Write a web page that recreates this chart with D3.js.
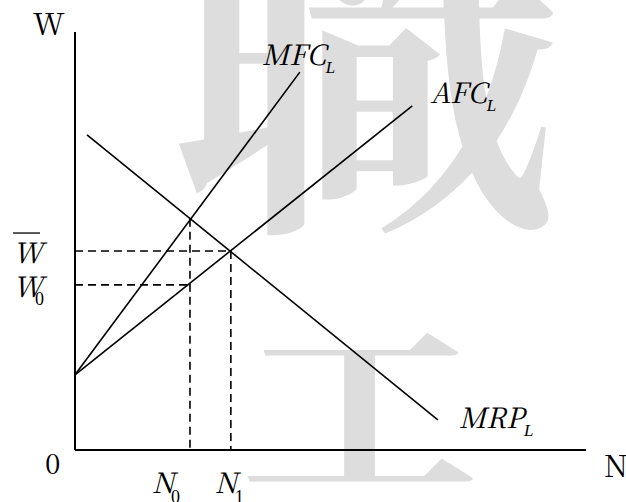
<!DOCTYPE html>
<html>
<head>
<meta charset="utf-8">
<script src="https://cdn.jsdelivr.net/npm/d3@7"></script>
<style>
  html, body { margin: 0; padding: 0; background: #fff; }
  svg { display: block; }
</style>
</head>
<body>
<div id="chart"></div>
<script>
// curves as [N, W] endpoints
const mfcPoints = [[0, 1.8], [4.4, 9.04]];
const afcPoints = [[0, 1.8], [6.6, 8.23]];
const mrpPoints = [[0.235, 7.54], [7.1, 0.72]];

// equilibrium values
const nValues = [2.25, 3.05];        // N0, N1
const wValues = [3.95, 4.76];        // W0, W-bar
const mfcAtN0 = 5.53;

const curveLabels = ["MFC", "AFC", "MRP"];

const width = 626, height = 502;
const serifSmall = "'Liberation Serif', 'Times New Roman', serif";
// Liberation Serif drops to a sans face at big sizes here, the CJK serif does not
const serifBig = "'Noto Serif CJK TC', 'Liberation Serif', serif";
const cjk = "'Noto Serif CJK TC', 'Noto Sans CJK TC', serif";

const x = d3.scaleLinear().domain([0, 10]).range([75, 586]);
const y = d3.scaleLinear().domain([0, 10]).range([450, 32]);

const svg = d3.select("#chart").append("svg")
    .attr("width", width)
    .attr("height", height);

/* ── watermark ── */
svg.append("text")
    .attr("x", 366).attr("y", 200)
    .attr("text-anchor", "middle")
    .style("font-family", cjk)
    .style("font-weight", "700")
    .style("font-size", "390px")
    .style("fill", "#dddddd")
    .text("職");
svg.append("text")
    .attr("transform", "translate(360,480) scale(1,0.78)")
    .attr("text-anchor", "middle")
    .style("font-family", cjk)
    .style("font-weight", "700")
    .style("font-size", "240px")
    .style("fill", "#dddddd")
    .text("工");

/* ── axes ── */
svg.append("line")
    .attr("x1", x(0)).attr("y1", y(0))
    .attr("x2", x(0)).attr("y2", y(10))
    .attr("stroke", "#000").attr("stroke-width", 2);
svg.append("line")
    .attr("x1", x(0)).attr("y1", y(0))
    .attr("x2", x(10)).attr("y2", y(0))
    .attr("stroke", "#000").attr("stroke-width", 2);

/* ── dashed guides ── */
const dash = "8,5";
const guides = [
    [[0, wValues[1]], [nValues[1], wValues[1]]],
    [[0, wValues[0]], [nValues[0], wValues[0]]],
    [[nValues[0], mfcAtN0], [nValues[0], 0]],
    [[nValues[1], wValues[1]], [nValues[1], 0]]
];
guides.forEach(g => {
    svg.append("line")
        .attr("x1", x(g[0][0])).attr("y1", y(g[0][1]))
        .attr("x2", x(g[1][0])).attr("y2", y(g[1][1]))
        .attr("stroke", "#000")
        .attr("stroke-width", 1.6)
        .attr("stroke-dasharray", dash);
});

/* ── curves ── */
const line = d3.line().x(d => x(d[0])).y(d => y(d[1]));
[mfcPoints, afcPoints, mrpPoints].forEach(pts => {
    svg.append("path")
        .attr("d", line(pts))
        .attr("fill", "none")
        .attr("stroke", "#000")
        .attr("stroke-width", 1.6);
});

/* ── labels ── */
function label(px, py, txt, size, italic) {
    const t = svg.append("text")
        .attr("x", px).attr("y", py)
        .style("font-family", size > 22 ? serifBig : serifSmall)
        .style("font-size", size + "px")
        .style("font-style", italic ? "italic" : "normal")
        .style("fill", "#000")
        .text(txt);
    return { node: t, width: t.node().getComputedTextLength() };
}

// curve names with subscript L
const labelAnchors = [
    [x(mfcPoints[1][0]) - 38, y(mfcPoints[1][1]) - 7],
    [x(afcPoints[1][0]) + 18, y(afcPoints[1][1]) - 3],
    [x(mrpPoints[1][0]) + 21, y(mrpPoints[1][1]) + 8]
];
curveLabels.forEach((name, i) => {
    const [lx, ly] = labelAnchors[i];
    const t = label(lx, ly, name, 28, true);
    label(lx + t.width, ly + 8, "L", 17, true);
});

// axis titles
label(33, 35, "W", 30, false);
label(604, 477, "N", 30, false);
label(45, 474, "0", 28, false);

// W-bar and W0
label(13, y(wValues[1]) + 12, "W", 28, true);
svg.append("line")
    .attr("x1", 13).attr("x2", 40)
    .attr("y1", y(wValues[1]) - 18).attr("y2", y(wValues[1]) - 18)
    .attr("stroke", "#000").attr("stroke-width", 1.3);
label(13, y(wValues[0]) + 12, "W", 28, true);
label(35, y(wValues[0]) + 20, "0", 18, false);

// N0 and N1
label(x(nValues[0]) - 38, 493, "N", 28, true);
label(x(nValues[0]) - 19, 503, "0", 18, false);
label(x(nValues[1]) - 16, 493, "N", 28, true);
label(x(nValues[1]) + 4, 503, "1", 18, false);
</script>
</body>
</html>
